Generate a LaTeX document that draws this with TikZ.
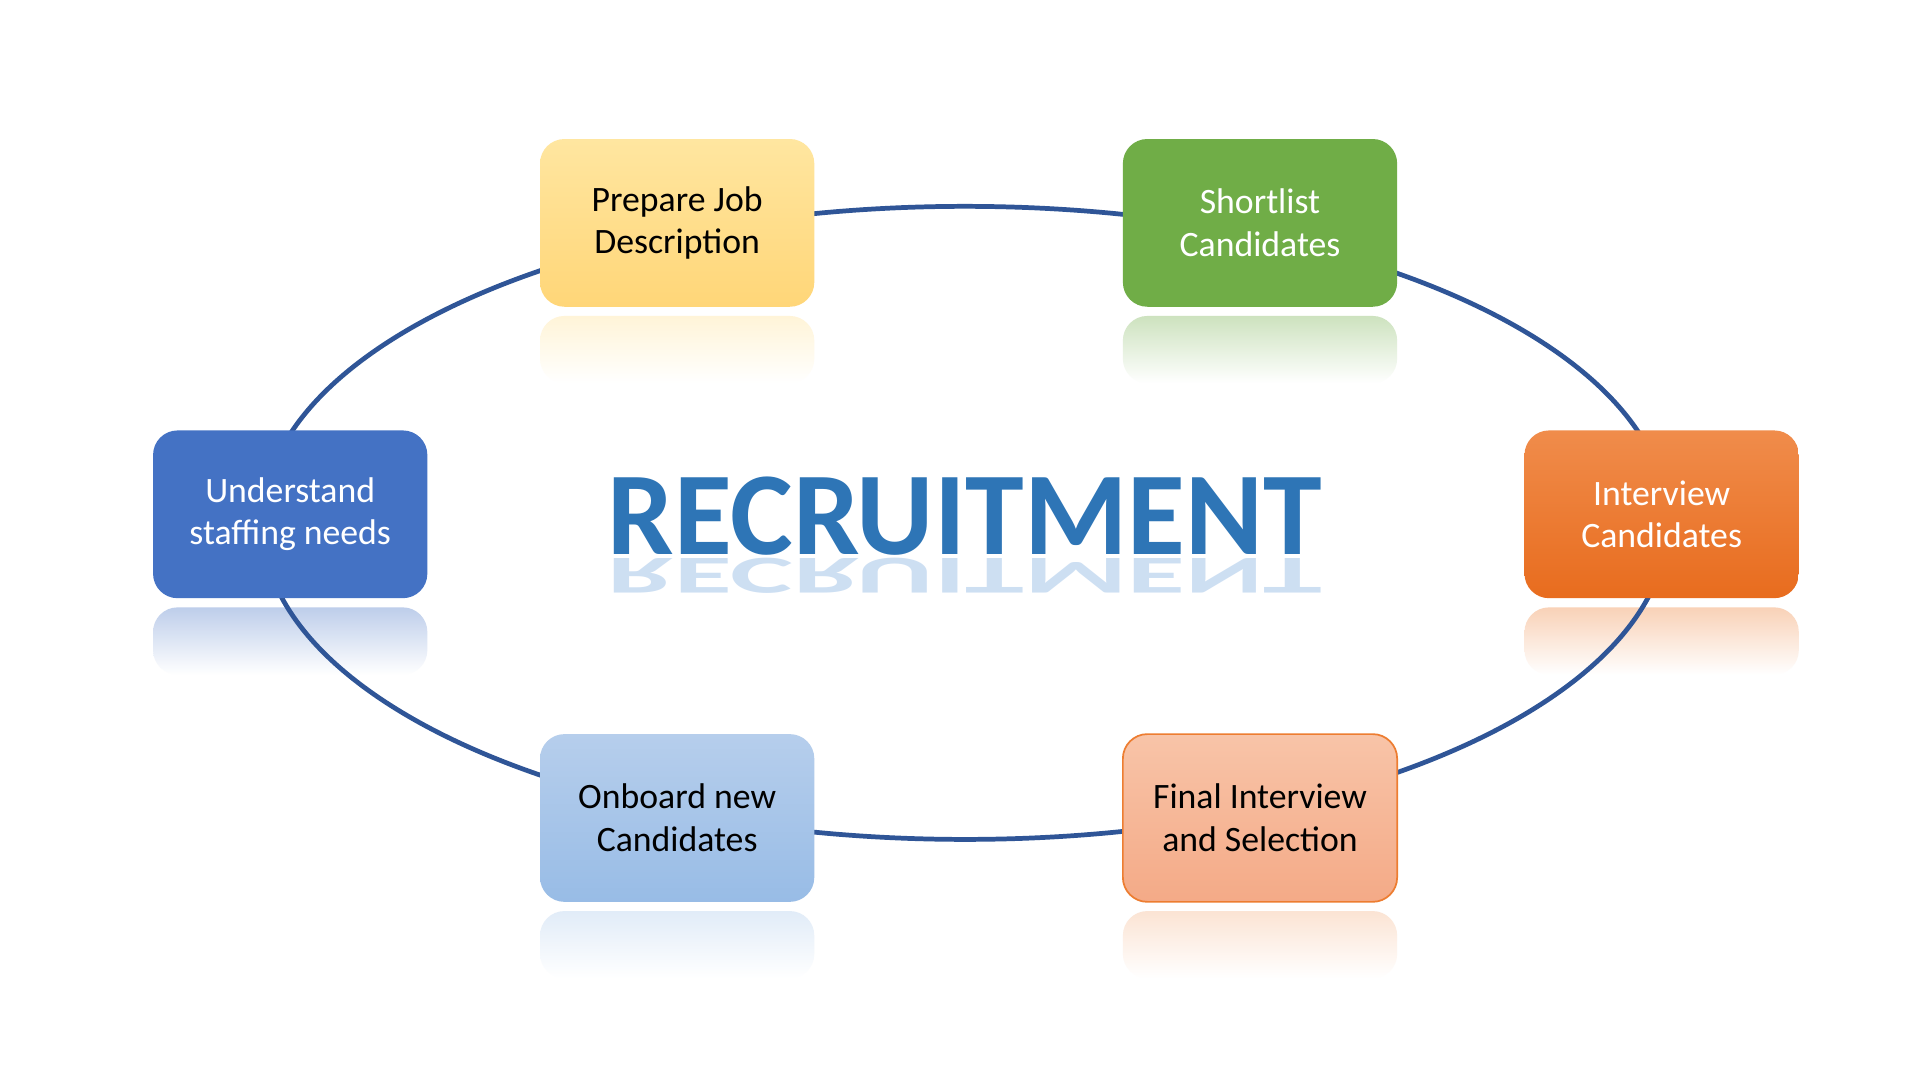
\documentclass[tikz,border=0pt]{standalone}
\usepackage{fontspec}
\setmainfont{Carlito}
\definecolor{ring}{HTML}{2F5597}
\tikzset{
 card/.style={rounded corners=0.2cm,minimum width=2.24cm,minimum height=1.37cm,align=center,font=\fontsize{8.3}{9.9}\selectfont,inner sep=0pt},
 title/.style={font=\fontsize{27.5}{27.5}\bfseries\selectfont}
}
\begin{document}
\begin{tikzpicture}[yscale=-1]
\useasboundingbox (0,0) rectangle (15.68,8.82);
\fill[white] (0,0) rectangle (15.68,8.82);
% reflections
\foreach \c/\x/\y in {FFE08F/5.53/2.83,70AD47/10.29/2.83,4472C4/2.37/5.21,ED7D31/13.57/5.21,A9C8EA/5.53/7.69,F4B183/10.29/7.69}{
 \definecolor{rc}{HTML}{\c}
 \shade[top color=rc!35,bottom color=white,rounded corners=0.2cm] (\x-1.12,\y-0.25) rectangle (\x+1.12,\y+0.3);
}
\draw[ring,line width=1.1pt] (7.88,4.27) ellipse (5.74cm and 2.585cm);
\node[card,top color={rgb,255:red,255;green,230;blue,160},bottom color={rgb,255:red,255;green,214;blue,120}] (a) at (5.53,1.82) {Prepare Job\\Description};
\node[card,fill={rgb,255:red,112;green,173;blue,71},text=white] (b) at (10.29,1.82) {Shortlist\\Candidates};
\node[card,fill={rgb,255:red,68;green,114;blue,196},text=white] (c) at (2.37,4.20) {Understand\\staffing needs};
\node[card,top color={rgb,255:red,240;green,140;blue,75},bottom color={rgb,255:red,232;green,108;blue,30},text=white] (d) at (13.57,4.20) {Interview\\Candidates};
\node[card,top color={rgb,255:red,182;green,206;blue,236},bottom color={rgb,255:red,152;green,188;blue,230}] (e) at (5.53,6.68) {Onboard new\\Candidates};
\node[card,top color={rgb,255:red,248;green,196;blue,168},bottom color={rgb,255:red,244;green,170;blue,135},draw={rgb,255:red,237;green,125;blue,49},line width=0.4pt] (f) at (10.29,6.68) {Final Interview\\and Selection};
\node[title,text={rgb,255:red,90;green,150;blue,215},yscale=-0.45,opacity=0.3,anchor=base] (tr) at (7.88,4.56) {RECRUITMENT};
\node[title,text={rgb,255:red,46;green,117;blue,182},anchor=base] (t) at (7.88,4.53) {RECRUITMENT};
\end{tikzpicture}
\end{document}
